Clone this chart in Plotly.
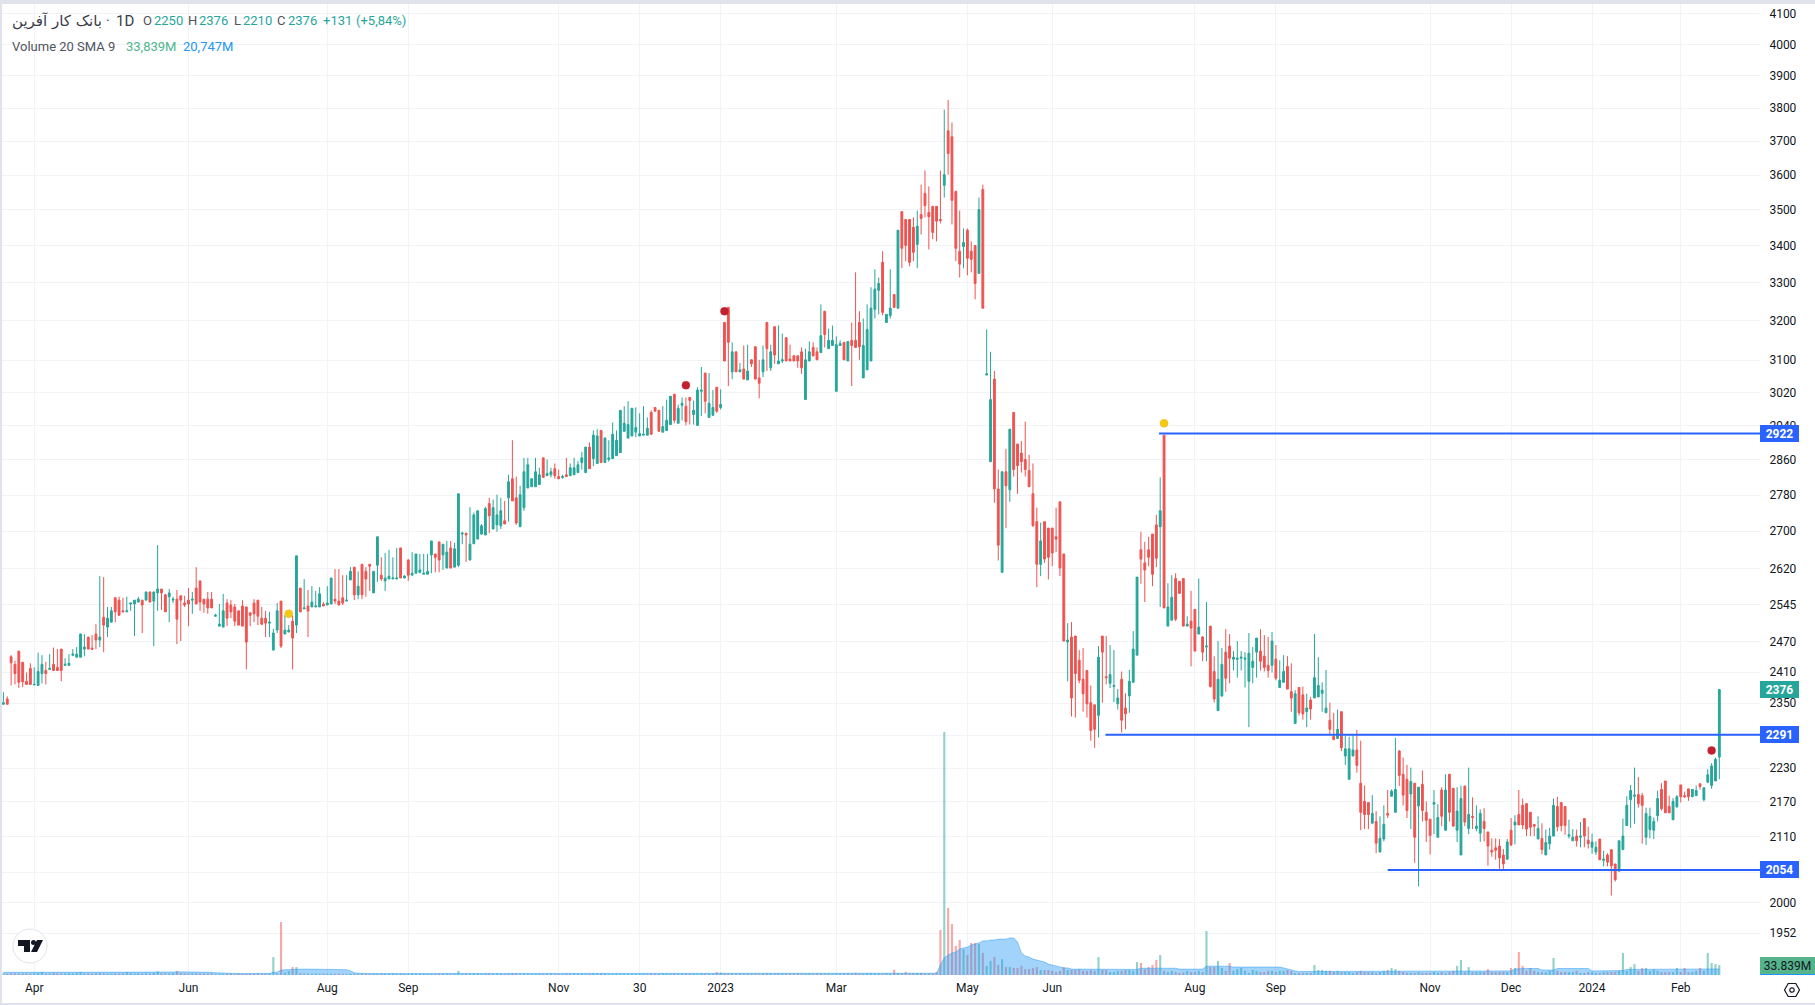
import math
import plotly.graph_objects as go

opens = [
2348,2358,2440,2425,2451,2429,2392,2417,2385,2384,
2407,2413,2415,2425,2419,2455,2423,2423,2443,2439,
2439,2455,2479,2457,2485,2473,2519,2499,2509,2559,
2554,2532,2530,2546,2546,2550,2554,2554,2571,2552,
2569,2577,2565,2561,2554,2556,2563,2548,2554,2554,
2579,2594,2556,2556,2556,2521,2501,2499,2548,2544,
2540,2532,2542,2540,2528,2548,2554,2517,2517,2507,
2453,2493,2552,2485,2489,2511,2503,2579,2536,2542,
2540,2540,2540,2546,2544,2546,2556,2552,2559,2552,
2596,2623,2565,2629,2614,2629,2569,2627,2606,2594,
2598,2598,2598,2664,2600,2638,2606,2610,2612,2608,
2608,2649,2651,2677,2649,2621,2664,2623,2627,2694,
2696,2638,2673,2683,2694,2692,2761,2705,2714,2712,
2723,2774,2817,2774,2710,2752,2796,2799,2799,2804,
2865,2824,2826,2840,2822,2820,2826,2824,2826,2831,
2854,2831,2890,2863,2852,2929,2854,2861,2863,2870,
2877,2927,2911,2916,2925,2916,2918,2918,2972,2984,
2977,2925,2929,2943,3016,2946,2989,2987,3008,2967,
2941,3023,3068,2960,2965,3033,2984,3196,3235,3071,
3121,3071,3078,3051,3101,3134,3056,3071,3196,3081,
3185,3091,3098,3157,3103,3111,3111,3121,3003,3098,
3132,3121,3119,3225,3129,3137,3023,3137,3145,3098,
3150,3150,3196,3056,3076,3098,3230,3280,3355,3196,
3214,3269,3233,3495,3473,3473,3451,3404,3487,3547,
3493,3510,3510,3473,3570,3731,3713,3552,3385,3398,
3443,3385,3401,3325,3558,3063,2856,3053,2794,2612,
2833,2792,2972,2897,2876,2861,2836,2783,2721,2629,
2721,2707,2707,2688,2765,2651,2469,2479,2481,2433,
2396,2413,2351,2347,2327,2481,2401,2388,2382,2349,
2396,2341,2364,2390,2443,2660,2632,2660,2694,2714,
2710,2918,2501,2513,2599,2593,2599,2501,2511,2535,
2485,2479,2459,2501,2411,2336,2364,2449,2461,2435,
2435,2437,2435,2392,2419,2449,2451,2441,2423,2423,
2435,2380,2390,2421,2372,2312,2380,2366,2334,2356,
2360,2362,2369,2332,2318,2288,2284,2334,2252,2210,
2252,2263,2203,2171,2169,2133,2136,2084,2106,2150,
2180,2152,2261,2219,2210,2184,2203,2163,2201,2152,
2140,2166,2109,2191,2121,2219,2194,2121,2079,2198,
2124,2145,2124,2116,2136,2118,2087,2091,2094,2079,
2072,2121,2130,2148,2164,2167,2152,2131,2106,2107,
2079,2098,2111,2162,2169,2162,2111,2103,2111,2109,
2141,2104,2092,2084,2106,2070,2079,2088,2064,2052,
2088,2129,2174,2180,2183,2181,2109,2122,2121,2146,
2192,2207,2162,2139,2161,2200,2181,2193,2179,2181,
2202,2174,2205,2199,2207,2250,
]
highs = [
2371,2363,2443,2432,2451,2429,2409,2427,2419,2448,
2443,2430,2445,2458,2455,2455,2437,2445,2455,2459,
2486,2485,2479,2483,2505,2604,2602,2540,2540,2559,
2561,2559,2561,2548,2554,2561,2554,2571,2571,2571,
2670,2577,2567,2577,2561,2575,2563,2563,2579,2571,
2623,2594,2556,2571,2571,2526,2546,2567,2556,2554,
2546,2532,2554,2540,2528,2556,2554,2540,2532,2530,
2495,2548,2552,2523,2503,2523,2647,2579,2598,2575,
2583,2573,2581,2550,2583,2600,2619,2619,2606,2606,
2623,2623,2614,2629,2623,2629,2614,2688,2644,2653,
2660,2644,2664,2664,2606,2640,2655,2651,2651,2651,
2651,2679,2651,2677,2672,2679,2679,2675,2783,2699,
2696,2753,2741,2745,2716,2754,2774,2770,2781,2774,
2767,2826,2906,2822,2801,2865,2865,2817,2865,2842,
2865,2861,2842,2852,2838,2826,2865,2852,2865,2858,
2879,2890,2901,2929,2932,2929,2913,2906,2948,2929,
2977,2987,2999,2982,2984,2970,2987,2960,2977,2984,
2977,2987,3003,3011,3016,2991,3008,3008,3008,3001,
3033,3083,3068,3068,3026,3033,3028,3196,3235,3145,
3121,3093,3137,3139,3101,3134,3101,3137,3196,3139,
3185,3188,3167,3157,3139,3113,3111,3132,3129,3147,
3145,3132,3243,3225,3180,3188,3160,3150,3145,3147,
3196,3328,3225,3206,3243,3288,3336,3314,3385,3217,
3336,3269,3443,3495,3473,3473,3479,3498,3572,3613,
3567,3510,3510,3613,3795,3825,3756,3555,3498,3448,
3448,3412,3401,3535,3572,3178,3121,3073,2838,2833,
2886,2932,2972,2897,2904,2950,2872,2852,2752,2719,
2721,2707,2707,2752,2765,2651,2507,2509,2481,2453,
2457,2413,2384,2347,2461,2481,2481,2463,2453,2377,
2411,2369,2414,2491,2602,2699,2677,2688,2694,2736,
2820,2918,2589,2606,2610,2593,2599,2521,2573,2535,
2599,2481,2550,2501,2441,2471,2457,2495,2485,2451,
2471,2451,2449,2487,2459,2477,2495,2483,2479,2489,
2463,2433,2443,2441,2427,2375,2380,2382,2368,2362,
2485,2439,2390,2414,2351,2332,2338,2334,2289,2287,
2291,2300,2280,2199,2169,2182,2154,2145,2164,2191,
2192,2285,2263,2249,2236,2231,2203,2196,2226,2171,
2140,2191,2166,2196,2219,2219,2194,2196,2199,2198,
2231,2178,2164,2157,2159,2118,2107,2107,2106,2089,
2106,2142,2147,2191,2176,2167,2152,2131,2145,2133,
2122,2125,2176,2179,2169,2162,2139,2123,2122,2135,
2141,2127,2115,2102,2106,2086,2082,2088,2064,2103,
2141,2180,2200,2231,2214,2186,2160,2160,2143,2190,
2203,2207,2181,2177,2182,2200,2188,2193,2192,2199,
2202,2195,2228,2239,2249,2376,
]
lows = [
2348,2348,2384,2386,2379,2381,2386,2386,2385,2384,
2388,2386,2415,2413,2413,2392,2423,2423,2441,2439,
2439,2441,2455,2453,2455,2459,2449,2479,2509,2509,
2523,2530,2530,2532,2481,2550,2487,2554,2550,2461,
2532,2534,2530,2509,2548,2465,2471,2540,2501,2526,
2546,2532,2528,2526,2538,2521,2501,2499,2501,2517,
2501,2503,2501,2415,2501,2509,2503,2503,2479,2479,
2453,2487,2457,2485,2489,2415,2487,2530,2536,2479,
2540,2540,2540,2542,2544,2546,2546,2544,2544,2552,
2596,2554,2556,2556,2561,2573,2569,2592,2594,2573,
2598,2598,2598,2600,2600,2594,2606,2610,2610,2608,
2608,2610,2612,2612,2617,2621,2621,2623,2623,2672,
2634,2638,2673,2683,2692,2692,2696,2705,2699,2705,
2716,2721,2767,2714,2710,2745,2796,2799,2799,2804,
2820,2824,2820,2817,2817,2817,2822,2824,2826,2831,
2838,2831,2840,2846,2852,2854,2854,2856,2863,2870,
2877,2927,2911,2916,2913,2916,2918,2918,2920,2975,
2927,2925,2929,2943,2946,2946,2953,2941,2943,2943,
2941,2963,2970,2960,2965,2971,2979,3098,3036,3053,
3071,3071,3053,3051,3083,3053,3006,3058,3073,3073,
3091,3091,3093,3098,3098,3098,3081,3066,3003,3098,
3109,3101,3119,3132,3129,3137,3023,3137,3101,3098,
3036,3132,3101,3056,3076,3098,3206,3217,3214,3196,
3206,3233,3233,3339,3358,3344,3358,3339,3431,3479,
3390,3418,3412,3462,3535,3601,3459,3358,3314,3339,
3320,3328,3256,3325,3233,3063,2856,2763,2637,2612,
2707,2765,2822,2783,2831,2822,2799,2710,2581,2604,
2632,2597,2625,2655,2604,2471,2392,2325,2323,2388,
2334,2323,2280,2267,2286,2351,2386,2379,2352,2338,
2295,2301,2332,2390,2443,2588,2550,2625,2583,2623,
2540,2538,2501,2513,2511,2568,2501,2501,2421,2451,
2485,2431,2431,2380,2351,2336,2362,2372,2388,2413,
2399,2413,2380,2305,2388,2399,2413,2411,2399,2409,
2394,2380,2390,2377,2334,2312,2327,2319,2305,2319,
2360,2362,2334,2332,2292,2282,2284,2261,2236,2210,
2252,2222,2121,2123,2123,2133,2082,2084,2102,2142,
2180,2152,2198,2164,2142,2123,2066,2027,2136,2101,
2080,2114,2109,2128,2121,2136,2128,2101,2079,2128,
2114,2123,2119,2101,2102,2061,2076,2071,2056,2054,
2071,2094,2097,2130,2123,2111,2111,2111,2106,2080,
2079,2088,2111,2119,2119,2113,2107,2103,2093,2092,
2092,2090,2081,2079,2071,2060,2060,2012,2035,2052,
2088,2129,2125,2132,2160,2098,2096,2107,2106,2136,
2155,2151,2151,2139,2161,2169,2177,2172,2179,2181,
2192,2171,2203,2193,2207,2210,
]
closes = [
2351,2348,2428,2407,2390,2391,2386,2386,2386,2411,
2425,2407,2417,2413,2413,2413,2425,2427,2445,2445,
2485,2459,2455,2455,2473,2479,2503,2517,2532,2530,
2523,2530,2532,2548,2554,2556,2544,2571,2550,2571,
2577,2569,2530,2569,2556,2515,2554,2544,2546,2556,
2546,2550,2546,2538,2538,2523,2505,2532,2517,2530,
2511,2503,2501,2469,2523,2526,2521,2505,2507,2509,
2487,2532,2461,2493,2493,2477,2647,2530,2538,2532,
2550,2542,2567,2542,2548,2600,2552,2544,2548,2554,
2614,2565,2583,2565,2598,2625,2614,2688,2598,2600,
2604,2600,2600,2600,2604,2606,2610,2651,2617,2610,
2614,2679,2644,2638,2672,2655,2621,2662,2783,2696,
2692,2672,2736,2745,2712,2750,2734,2752,2736,2745,
2716,2810,2767,2718,2781,2833,2849,2817,2833,2826,
2820,2829,2833,2824,2817,2822,2822,2842,2842,2849,
2865,2890,2840,2918,2916,2854,2911,2865,2920,2906,
2977,2946,2943,2982,2936,2922,2920,2934,2920,2975,
2927,2938,2953,3011,2953,2982,2994,2950,3001,2977,
3026,3026,2999,2994,2984,2975,2991,3098,3145,3121,
3071,3076,3053,3073,3091,3053,3043,3101,3129,3121,
3113,3098,3101,3098,3098,3098,3098,3081,3101,3121,
3111,3101,3162,3165,3150,3150,3139,3142,3101,3147,
3137,3132,3134,3137,3178,3233,3283,3298,3222,3217,
3233,3235,3443,3393,3401,3355,3382,3454,3476,3512,
3481,3437,3468,3470,3601,3663,3527,3393,3350,3409,
3366,3363,3298,3501,3233,3066,3003,2794,2670,2833,
2801,2932,2838,2847,2856,2838,2799,2712,2629,2679,
2640,2644,2653,2683,2621,2471,2473,2360,2407,2394,
2368,2349,2299,2301,2439,2449,2399,2405,2384,2360,
2318,2330,2392,2455,2602,2640,2617,2644,2608,2642,
2745,2538,2540,2560,2515,2568,2501,2505,2497,2451,
2499,2449,2461,2382,2358,2396,2425,2398,2437,2439,
2437,2439,2437,2447,2431,2477,2431,2419,2413,2471,
2398,2394,2411,2377,2360,2368,2332,2330,2341,2339,
2399,2384,2375,2341,2301,2282,2301,2267,2265,2265,
2263,2235,2152,2148,2148,2150,2099,2107,2131,2147,
2189,2192,2217,2182,2155,2206,2109,2196,2155,2138,
2112,2169,2143,2145,2191,2152,2128,2154,2176,2135,
2148,2143,2128,2150,2124,2094,2084,2087,2074,2064,
2101,2096,2135,2130,2130,2123,2126,2128,2124,2088,
2100,2111,2164,2127,2129,2129,2113,2109,2103,2111,
2111,2098,2101,2092,2071,2072,2067,2061,2038,2103,
2111,2164,2190,2182,2167,2164,2150,2145,2136,2176,
2158,2151,2151,2171,2179,2179,2179,2179,2192,2190,
2197,2195,2218,2234,2246,2376,
]
volumes_m = [
6,5,5,6,5,5,6,5,5,7,
10,5,5,7,6,5,5,6,5,7,
10,5,6,5,6,7,6,5,5,6,
5,6,10,6,5,6,5,6,5,7,
13,6,6,5,6,13,7,6,5,6,
6,5,5,5,6,4,4,4,5,5,
4,5,4,4,5,4,5,4,5,5,
61,5,180,8,14,27,27,6,5,5,
4,5,4,5,4,5,4,5,4,4,
5,5,4,5,4,4,5,4,5,4,
4,5,4,5,4,4,5,4,4,5,
4,4,4,5,4,4,4,4,14,4,
5,4,5,5,4,5,5,4,5,5,
4,5,6,5,4,4,5,4,4,5,
4,4,5,4,4,4,5,4,5,4,
5,4,5,6,6,5,5,4,4,5,
4,5,4,4,4,4,4,4,5,4,
4,5,5,4,5,4,4,5,4,5,
4,5,5,4,4,10,8,6,5,5,
4,4,5,5,5,5,4,5,5,5,
5,5,5,5,4,4,5,5,5,5,
4,5,5,5,5,4,5,5,5,6,
5,8,5,5,6,6,6,5,5,6,
5,18,6,5,11,6,6,7,7,5,
6,6,10,153,826,228,173,99,119,88,
68,109,109,105,75,31,48,61,34,54,
27,27,24,24,31,20,20,24,27,17,
17,17,14,10,14,27,17,17,17,20,
14,14,17,14,61,17,17,10,10,14,
14,17,17,14,44,41,20,27,34,51,
68,14,10,14,10,7,9,14,10,10,
14,10,150,27,27,48,24,14,41,14,
20,24,14,7,17,14,10,10,14,14,
10,14,14,17,14,7,7,7,7,7,
34,17,17,14,14,10,14,10,10,10,
7,10,14,10,10,10,7,10,14,17,
24,20,14,10,7,7,7,10,7,7,
7,10,7,10,7,10,14,31,51,10,
27,10,10,10,10,20,10,10,10,10,
10,24,24,78,31,14,24,14,10,10,
10,14,58,14,10,10,10,10,14,7,
7,10,10,7,7,10,10,10,10,14,
75,14,27,37,14,24,24,14,20,14,
10,10,10,10,24,10,24,10,10,14,
24,14,75,41,37,33.839,
]
volume_sma_m = [
9,9,9,9,9,8,8,8,8,8,
9,9,9,9,8,8,8,8,8,9,
9,9,9,9,9,9,9,9,9,9,
9,9,10,10,10,10,10,10,10,9,
10,10,10,10,10,11,11,11,10,10,
10,10,10,10,9,8,7,6,6,6,
5,5,5,5,5,5,5,5,5,5,
9,10,17,19,19,19,20,20,20,20,
20,20,20,20,20,20,20,20,19,18,
14,8,6,5,5,5,5,5,5,5,
5,5,5,5,5,5,5,5,5,5,
5,5,5,5,5,5,5,5,5,5,
5,5,5,5,5,5,5,5,5,5,
5,5,5,5,5,5,5,6,6,6,
6,6,6,6,6,6,6,6,6,6,
5,5,5,5,5,5,5,5,5,5,
5,5,5,5,5,5,5,5,5,5,
5,5,5,5,5,5,5,5,5,5,
5,5,5,5,5,5,5,5,5,5,
5,5,5,5,5,5,5,5,5,5,
5,5,5,5,5,5,5,5,5,5,
5,5,5,5,5,5,5,5,5,5,
5,5,5,5,5,5,5,5,5,5,
5,5,5,5,5,5,5,5,5,5,
5,6,6,34,58,68,75,78,88,92,
95,102,105,109,116,116,119,119,122,122,
122,126,126,112,75,65,61,54,51,48,
44,37,34,31,27,24,24,20,20,20,
19,19,19,19,19,19,19,19,19,19,
19,19,19,19,19,23,23,23,23,23,
23,23,23,23,23,20,20,20,20,20,
20,20,30,30,30,30,30,30,30,27,
27,27,27,27,27,27,27,27,27,27,
27,27,24,20,17,14,12,12,12,12,
12,12,12,12,12,12,12,12,12,12,
12,12,12,12,12,12,12,12,12,12,
12,12,12,12,12,12,12,12,12,12,
12,12,12,12,12,12,12,12,12,12,
12,12,12,12,12,12,14,14,14,14,
14,14,20,22,22,22,22,22,22,17,
17,17,17,22,22,22,22,22,22,22,
22,22,14,14,14,14,14,14,15,15,
15,19,19,19,19,19,19,19,19,19,
19,19,19,19,19,21,21,21,21,21,
20,21,21,21,21,20.747,
]

date_tick_positions = [8, 48, 84, 105, 144, 165, 186, 216, 250, 272, 309, 330, 370, 391, 412, 435]
date_tick_labels = ["Apr", "Jun", "Aug", "Sep", "Nov", "30", "2023", "Mar", "May", "Jun",
                    "Aug", "Sep", "Nov", "Dec", "2024", "Feb"]
price_ticks = [4100, 4000, 3900, 3800, 3700, 3600, 3500, 3400, 3300, 3200, 3100, 3020, 2940, 2860,
               2780, 2700, 2620, 2545, 2470, 2410, 2350, 2290, 2230, 2170, 2110, 2050, 2000, 1952]
level_values = [2922, 2291, 2054]
level_starts = [299.7, 285.8, 359]
dot_red_index = [177, 187, 443]
dot_red_price = [3038, 3225, 2262]
dot_yellow_index = [74, 301]
dot_yellow_price = [2526, 2946]

W, H = 1815, 1005
PANE_L, PANE_R, PANE_T, PANE_B = 2, 1760, 4, 975
UP, DOWN, BLUE = "#26a69a", "#ef5350", "#2962ff"
GRID = "#f1f3f6"
TEXT = "#131722"
FONT = "Roboto"
n = len(closes)
indices = list(range(n))
X_RANGE = [-0.363, 455.55]
PRICE_RANGE = [1887, 4133]
VOLUME_TOP = 3301


def fx(x):
    return x / W


def fy(y):
    return 1 - y / H


fig = go.Figure()
fig.add_trace(go.Candlestick(
    x=indices, open=opens, high=highs, low=lows, close=closes,
    increasing=dict(line=dict(color=UP, width=1), fillcolor=UP),
    decreasing=dict(line=dict(color=DOWN, width=1), fillcolor=DOWN),
    whiskerwidth=0, hoverinfo="skip", showlegend=False,
))
fig.add_trace(go.Scatter(
    x=[i for s in level_starts for i in (s, X_RANGE[1], None)],
    y=[v for lv in level_values for v in (lv, lv, None)],
    mode="lines", line=dict(color=BLUE, width=2), hoverinfo="skip", showlegend=False,
))
fig.add_trace(go.Scatter(
    x=dot_red_index, y=dot_red_price, mode="markers",
    marker=dict(color="#c2202e", size=8, line=dict(color="rgba(194,32,46,0.35)", width=1)),
    hoverinfo="skip", showlegend=False,
))
fig.add_trace(go.Scatter(
    x=dot_yellow_index, y=dot_yellow_price, mode="markers",
    marker=dict(color="#f3ca0f", size=8, line=dict(color="rgba(243,180,60,0.5)", width=1)),
    hoverinfo="skip", showlegend=False,
))
fig.add_trace(go.Scatter(
    x=indices, y=volume_sma_m, yaxis="y2", mode="lines", fill="tozeroy",
    line=dict(color="rgba(33,150,243,0.45)", width=1), fillcolor="rgba(33,150,243,0.42)",
    hoverinfo="skip", showlegend=False,
))
fig.add_trace(go.Bar(
    x=indices, y=volumes_m, yaxis="y2", width=0.55,
    marker=dict(color=["rgba(38,166,154,0.5)" if c >= o else "rgba(239,83,80,0.5)"
                       for o, c in zip(opens, closes)], line=dict(width=0)),
    hoverinfo="skip", showlegend=False,
))

annotations = []


def text_at(x, y, s, color, size=13, family=FONT):
    annotations.append(dict(xref="paper", yref="paper", x=fx(x), y=fy(y), text=s, showarrow=False,
                            xanchor="left", yanchor="middle", align="left",
                            font=dict(color=color, size=size, family=family)))


text_at(10, 21, "بانک کار آفرین", "#3a3e4a", 15, "DejaVu Sans, Roboto")
text_at(104, 21, "·", "#3a3e4a", 14)
text_at(114, 21, "1D", "#3a3e4a", 15)
for x, s, col in [(141, "O", "#50535e"), (152, "2250", UP), (186, "H", "#50535e"), (197, "2376", UP),
                  (232, "L", "#50535e"), (241, "2210", UP), (275, "C", "#50535e"), (286, "2376", UP),
                  (321, "+131", UP), (354, "(+5,84%)", UP)]:
    text_at(x, 21, s, col)
text_at(10, 47, "Volume 20 SMA 9", "#50535e")
text_at(124, 47, "33,839M", "#4fb58c")
text_at(181, 47, "20,747M", "#2196f3")


def price_label(price, text, bg):
    annotations.append(dict(xref="paper", yref="y", x=fx(PANE_R), y=math.log10(price),
                            text=f"<b>{text}</b>",
                            showarrow=False, xanchor="left", yanchor="middle", width=39, height=17,
                            bgcolor=bg, borderpad=0, borderwidth=0, align="center", valign="middle",
                            font=dict(color="#ffffff", size=12, family=FONT)))


price_label(closes[-1], str(closes[-1]), UP)
for lv in level_values:
    price_label(lv, str(lv), BLUE)
annotations.append(dict(xref="paper", yref="paper", x=fx(PANE_R), y=fy(965.5), text="33.839M",
                        showarrow=False, xanchor="left", yanchor="middle", width=55, height=17,
                        bgcolor="#55b48c", borderpad=0, borderwidth=0, align="center", valign="middle",
                        font=dict(color=TEXT, size=12, family=FONT)))


def rect(x0, y0, x1, y1, color):
    return dict(type="rect", xref="paper", yref="paper", x0=fx(x0), x1=fx(x1), y0=fy(y0), y1=fy(y1),
                fillcolor=color, line=dict(width=0), layer="above")


def poly(points, cx, cy, **style):
    d = "M " + " L ".join(f"{fx(cx + px):.5f},{fy(cy + py):.5f}" for px, py in points) + " Z"
    return dict(type="path", xref="paper", yref="paper", path=d, layer="above", **style)


def disc(cx, cy, r, **style):
    return dict(type="circle", xref="paper", yref="paper", x0=fx(cx - r), x1=fx(cx + r),
                y0=fy(cy - r), y1=fy(cy + r), layer="above", **style)


LOGO_X, LOGO_Y = 30, 946
GEAR_X, GEAR_Y = 1792, 990
BORDER = "#e0e3eb"
shapes = [
    rect(0, 0, W, PANE_T, BORDER),
    rect(0, 0, PANE_L, H, BORDER),
    rect(0, 1003, W, H, BORDER),
    rect(PANE_R, 973, W, 975, "#2196f3"),
    disc(LOGO_X, LOGO_Y, 17, fillcolor="#ffffff", line=dict(color=BORDER, width=1)),
    poly([(-12, -6), (0, -6), (0, 6), (-6, 6), (-6, 0), (-12, 0)], LOGO_X, LOGO_Y,
         fillcolor=TEXT, line=dict(width=0)),
    disc(LOGO_X + 3.5, LOGO_Y - 3.5, 2.5, fillcolor=TEXT, line=dict(width=0)),
    poly([(7, -6), (13, -6), (7, 6), (1, 6)], LOGO_X, LOGO_Y, fillcolor=TEXT, line=dict(width=0)),
    poly([(-7.5, 0), (-3.8, -6.5), (3.8, -6.5), (7.5, 0), (3.8, 6.5), (-3.8, 6.5)], GEAR_X, GEAR_Y,
         fillcolor="rgba(0,0,0,0)", line=dict(color=TEXT, width=1.2)),
    disc(GEAR_X, GEAR_Y, 2.2, fillcolor="rgba(0,0,0,0)", line=dict(color=TEXT, width=1.2)),
]

fig.update_layout(
    width=W, height=H, margin=dict(l=0, r=0, t=0, b=0, pad=0, autoexpand=False),
    paper_bgcolor="#ffffff", plot_bgcolor="#ffffff", showlegend=False,
    boxmode="overlay", boxgap=0.32, barmode="overlay",
    font=dict(family=FONT, size=12, color=TEXT), hovermode=False, dragmode=False,
    annotations=annotations, shapes=shapes,
    xaxis=dict(domain=[fx(PANE_L), fx(PANE_R)], range=X_RANGE, rangeslider=dict(visible=False),
               tickmode="array", tickvals=date_tick_positions, ticktext=date_tick_labels,
               showgrid=True, gridcolor=GRID, gridwidth=1, zeroline=False, showline=False,
               ticks="outside", ticklen=2, tickcolor="rgba(0,0,0,0)",
               tickfont=dict(size=12, color=TEXT, family=FONT), automargin=False),
    yaxis=dict(domain=[fy(PANE_B), fy(PANE_T)], type="log",
               range=[math.log10(PRICE_RANGE[0]), math.log10(PRICE_RANGE[1])], side="right",
               tickmode="array", tickvals=price_ticks, ticktext=[str(t) for t in price_ticks],
               showgrid=True, gridcolor=GRID, gridwidth=1, zeroline=False, showline=False,
               ticks="outside", ticklen=6, tickcolor="rgba(0,0,0,0)",
               tickfont=dict(size=12, color=TEXT, family=FONT), automargin=False),
    yaxis2=dict(domain=[fy(PANE_B), fy(PANE_T)], overlaying="y", range=[0, VOLUME_TOP], visible=False,
                showgrid=False, zeroline=False),
)
fig.write_html("out.html", config=dict(displayModeBar=False),
               post_script="document.body.style.margin='0';document.documentElement.style.overflow='hidden';")
